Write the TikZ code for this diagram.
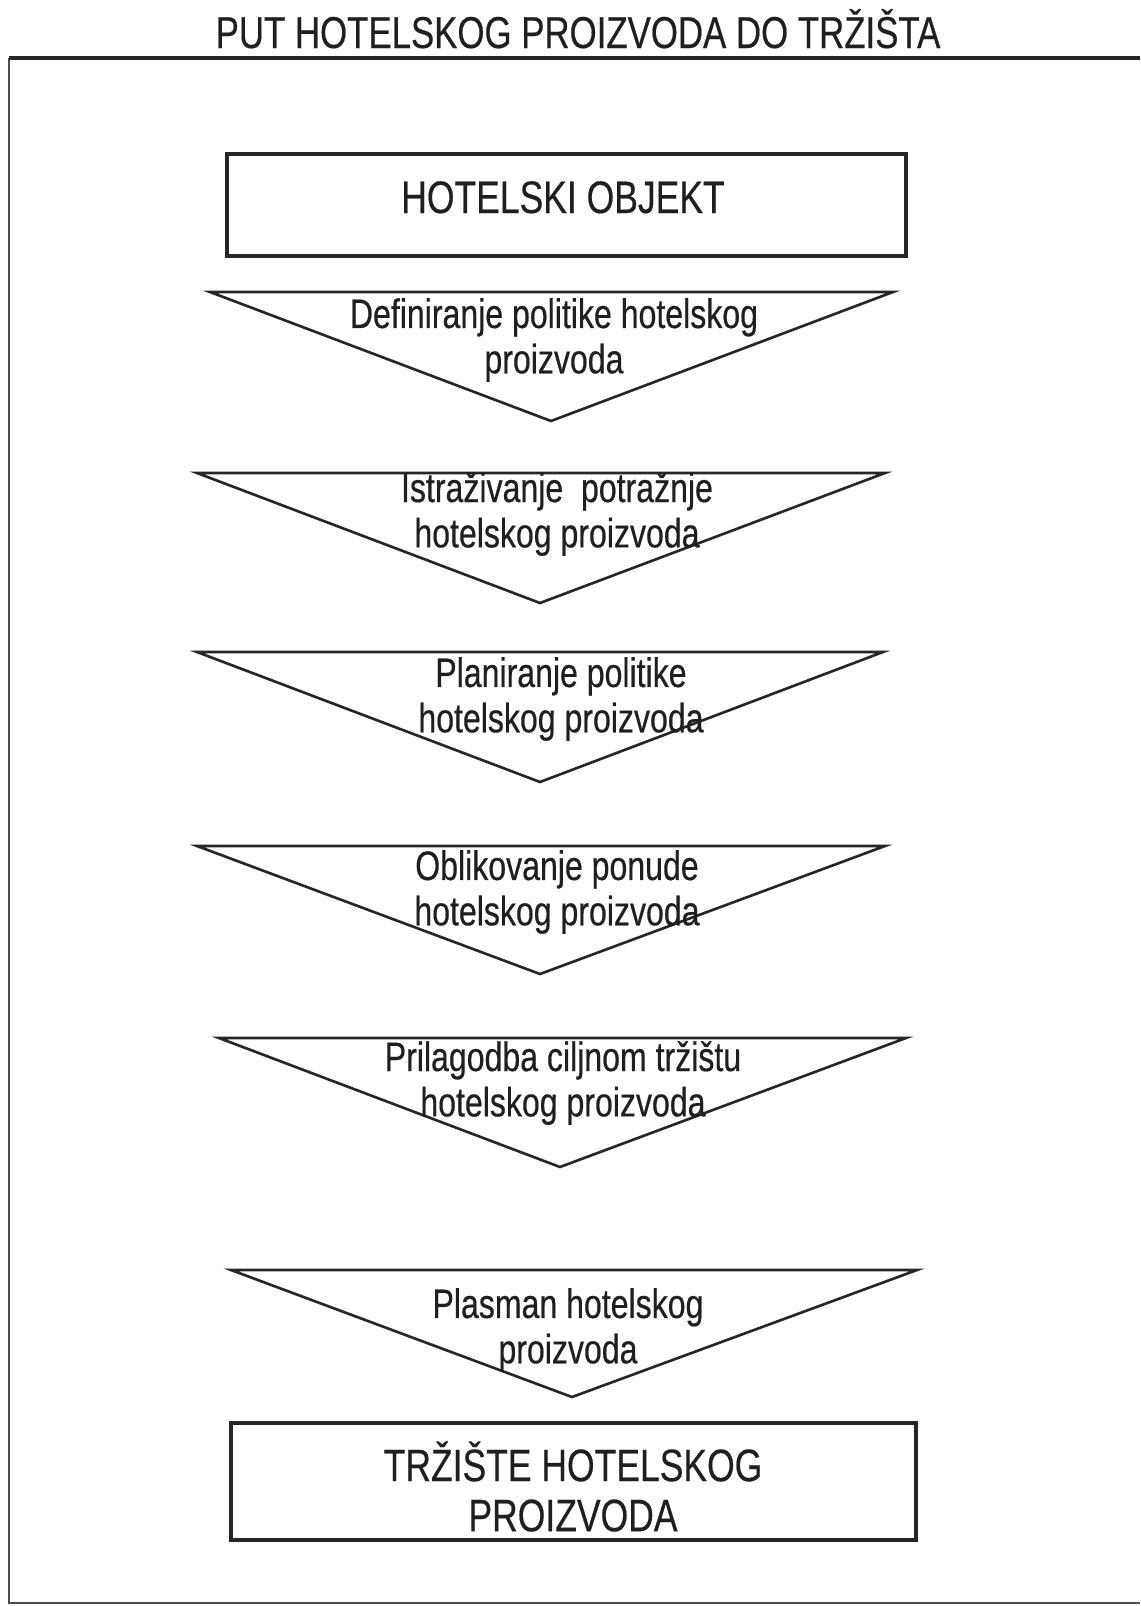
\documentclass[tikz,border=0pt]{standalone}
\usepackage{fontspec}
\setmainfont{Liberation Sans}[FakeStretch=0.78, FakeBold=0.4]

\begin{document}
\begin{tikzpicture}[x=0.02cm, y=-0.02cm,
  every node/.style={inner sep=0pt, text=black!88},
  title/.style={font=\fontsize{25.4}{30}\selectfont},
  bigtext/.style={font=\fontsize{25.9}{28.5}\selectfont, align=center},
  steptext/.style={font=\fontsize{23.4}{25.8}\selectfont, align=center},
  box/.style={draw=black!85, line width=2pt},
  stepline/.style={draw=black!85, line width=1.5pt, line join=miter},
  frametop/.style={draw=black!85, line width=2.2pt},
  frameside/.style={draw=black!70, line width=1.3pt}]

\useasboundingbox (0,0) rectangle (1140,1606);

% okvir
\coordinate (frame-nw) at (9,58);
\coordinate (frame-ne) at (1140,58);
\coordinate (frame-sw) at (9,1603);
\coordinate (frame-se) at (1140,1603);
\draw [frameside] (frame-nw) -- (frame-sw) -- (frame-se);
\draw [frametop] (frame-nw) -- (frame-ne);

\node [title, anchor=base] (naslov) at (578,48) {PUT HOTELSKOG PROIZVODA DO TRŽIŠTA};

\node [box, minimum width=13.58cm, minimum height=2.04cm] (objekt) at (566.5,205) {};
\node [bigtext, anchor=base] (objekt-txt) at (563,213) {HOTELSKI OBJEKT};

% koraci
\foreach \yt/\xl/\xr/\xa/\ya/\tx/\ty/\txt [count=\i] in {
  292/210/893/551/421/554/340/{Definiranje politike hotelskog\\proizvoda},
  473/197/885/540/603/557/514/{Istraživanje~ potražnje\\hotelskog proizvoda},
  652/197/883/540/782/561/699/{Planiranje politike\\hotelskog proizvoda},
  846/197/885/540/974/557/892/{Oblikovanje ponude\\hotelskog proizvoda},
  1038/219/906/560/1167/563/1083/{Prilagodba ciljnom tržištu\\hotelskog proizvoda},
  1270/231/917/572/1397/568/1330/{Plasman hotelskog\\proizvoda}}
{
  \coordinate (tl-\i) at (\xl,\yt);
  \coordinate (tr-\i) at (\xr,\yt);
  \coordinate (tip-\i) at (\xa,\ya);
  \draw [stepline] (tl-\i) -- (tr-\i) -- (tip-\i) -- cycle;
  \node [steptext] (step-\i) at (\tx,\ty) {\txt};
}

\node [box, minimum width=13.7cm, minimum height=2.34cm] (trziste) at (573.5,1481.5) {};
\node [bigtext] (trziste-txt) at (573,1486.5) {TRŽIŠTE HOTELSKOG\\PROIZVODA};

\end{tikzpicture}
\end{document}
